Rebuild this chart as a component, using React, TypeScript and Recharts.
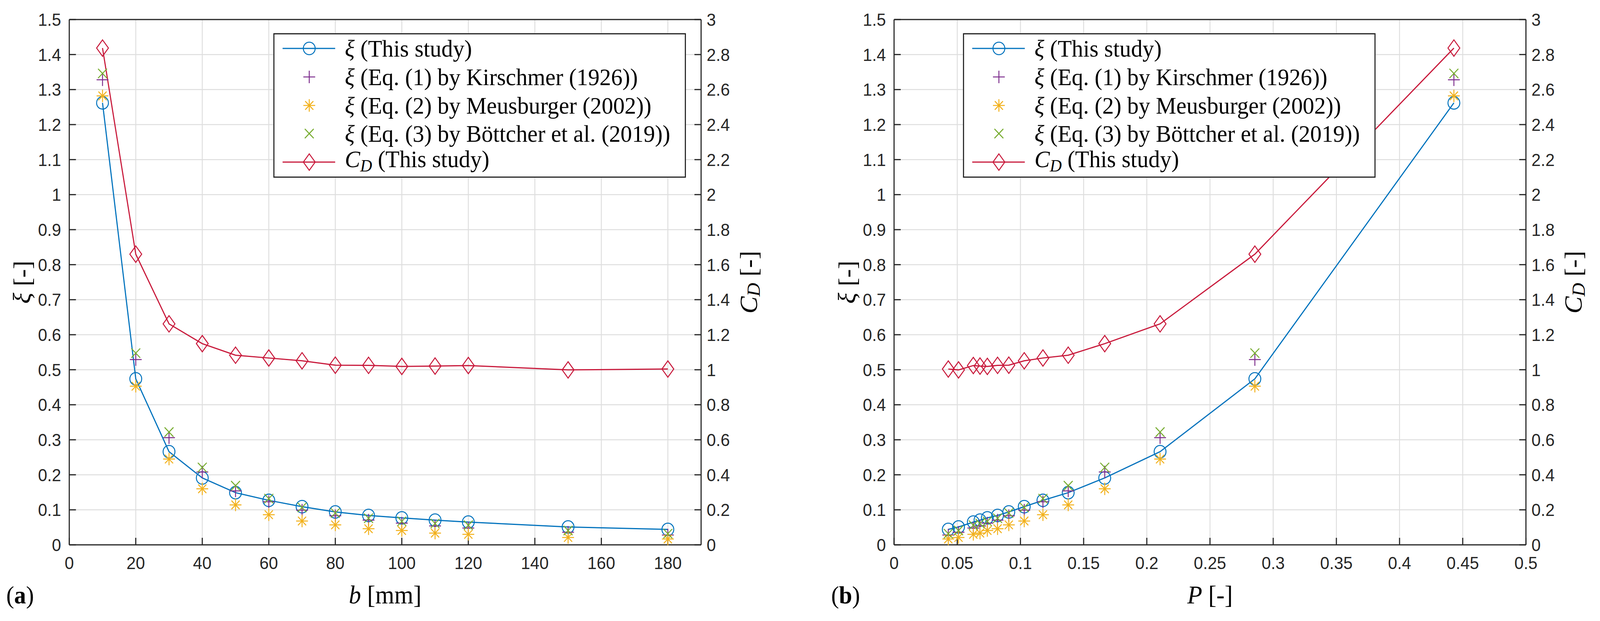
import React from 'react';
import { ComposedChart, Line, XAxis, YAxis, CartesianGrid, Legend, Label } from 'recharts';

// ---- data ----
const bValues = [10, 20, 30, 40, 50, 60, 70, 80, 90, 100, 110, 120, 150, 180];
const pValues = [0.443, 0.2855, 0.2105, 0.1667, 0.1378, 0.1178, 0.103, 0.0908, 0.0819, 0.0738, 0.068, 0.0627, 0.051, 0.0429];
const xiStudy = [1.262, 0.474, 0.266, 0.191, 0.149, 0.127, 0.109, 0.094, 0.084, 0.077, 0.0706, 0.065, 0.051, 0.044];
const xiKirschmer = [1.328, 0.529, 0.306, 0.208, 0.154, 0.123, 0.099, 0.083, 0.0706, 0.062, 0.054, 0.048, 0.036, 0.028];
const xiMeusburger = [1.282, 0.453, 0.245, 0.16, 0.114, 0.086, 0.068, 0.057, 0.046, 0.041, 0.0335, 0.03, 0.021, 0.0167];
const xiBoettcher = [1.346, 0.5475, 0.322, 0.221, 0.169, 0.132, 0.107, 0.091, 0.076, 0.067, 0.061, 0.056, 0.041, 0.032];
const cdStudy = [2.837, 1.66, 1.262, 1.149, 1.083, 1.067, 1.051, 1.026, 1.025, 1.019, 1.021, 1.024, 0.999, 1.004];

const xiTicks = [0, 0.1, 0.2, 0.3, 0.4, 0.5, 0.6, 0.7, 0.8, 0.9, 1, 1.1, 1.2, 1.3, 1.4, 1.5];
const cdTicks = [0, 0.2, 0.4, 0.6, 0.8, 1, 1.2, 1.4, 1.6, 1.8, 2, 2.2, 2.4, 2.6, 2.8, 3];
const bTicks = [0, 20, 40, 60, 80, 100, 120, 140, 160, 180];
const pTicks = [0, 0.05, 0.1, 0.15, 0.2, 0.25, 0.3, 0.35, 0.4, 0.45, 0.5];

const buildRows = (xs: number[]) =>
  xs.map((x, i) => ({
    x,
    xi: xiStudy[i],
    k: xiKirschmer[i],
    m: xiMeusburger[i],
    bo: xiBoettcher[i],
    cd: cdStudy[i],
  }));

const rowsB = buildRows(bValues);
const rowsP = buildRows(pValues);

// ---- styles ----
const BLUE = '#0072BD';
const PURPLE = '#7E2F8E';
const YELLOW = '#F2B11C';
const GREEN = '#77AC30';
const RED = '#C8183A';
const AXIS = '#262626';
const GRID = '#dedede';
const SANS = '"Liberation Sans", Arial, sans-serif';
const SERIF = '"Liberation Serif", "Times New Roman", serif';
const MW = 2.6;

// layout (design px, reference frame 4320 x 1590)
const PAGE_W = 4320;
const PAGE_H = 1590;
const VIEW_W = 4096; // visible width of the browser viewport
const CHART_W = 2093;
const CHART_H = 1590;
const LEFT_AXIS_W = 187;
const RIGHT_AXIS_W = 60;
const PLOT_W = 1706;
const MARGIN_RIGHT = CHART_W - LEFT_AXIS_W - PLOT_W - RIGHT_AXIS_W;

const fmt = (v: number) => String(Math.round(v * 1000) / 1000);

// ---- marker shapes ----
const drawCircle = (cx: number, cy: number, key?: string) => (
  <circle key={key} cx={cx} cy={cy} r={16} fill="none" stroke={BLUE} strokeWidth={MW} />
);
const drawPlus = (cx: number, cy: number, key?: string) => (
  <g key={key} stroke={PURPLE} strokeWidth={MW}>
    <line x1={cx - 16} y1={cy} x2={cx + 16} y2={cy} />
    <line x1={cx} y1={cy - 16} x2={cx} y2={cy + 16} />
  </g>
);
const drawStar = (cx: number, cy: number, key?: string) => (
  <g key={key} stroke={YELLOW} strokeWidth={MW}>
    <line x1={cx - 16} y1={cy} x2={cx + 16} y2={cy} />
    <line x1={cx} y1={cy - 16} x2={cx} y2={cy + 16} />
    <line x1={cx - 11} y1={cy - 11} x2={cx + 11} y2={cy + 11} />
    <line x1={cx - 11} y1={cy + 11} x2={cx + 11} y2={cy - 11} />
  </g>
);
const drawCross = (cx: number, cy: number, key?: string) => (
  <g key={key} stroke={GREEN} strokeWidth={MW}>
    <line x1={cx - 12} y1={cy - 12} x2={cx + 12} y2={cy + 12} />
    <line x1={cx - 12} y1={cy + 12} x2={cx + 12} y2={cy - 12} />
  </g>
);
const drawDiamond = (cx: number, cy: number, key?: string) => (
  <polygon
    key={key}
    points={`${cx},${cy - 21} ${cx + 16},${cy} ${cx},${cy + 21} ${cx - 16},${cy}`}
    fill="none"
    stroke={RED}
    strokeWidth={MW}
  />
);

const makeDot = (draw: (cx: number, cy: number, key?: string) => React.ReactElement, tag: string) =>
  (props: any) => {
    const { cx, cy, index } = props;
    if (cx == null || cy == null || isNaN(cx) || isNaN(cy)) return <g key={`${tag}${index}`} />;
    return draw(cx, cy, `${tag}${index}`);
  };

const circleDot = makeDot(drawCircle, 'c');
const plusDot = makeDot(drawPlus, 'p');
const starDot = makeDot(drawStar, 's');
const crossDot = makeDot(drawCross, 'x');
const diamondDot = makeDot(drawDiamond, 'd');

// ---- legend ----
const legendEntries = [
  { id: 'xi', draw: drawCircle, line: BLUE, sym: 'xi', text: ' (This study)' },
  { id: 'k', draw: drawPlus, line: null, sym: 'xi', text: ' (Eq. (1) by Kirschmer (1926))' },
  { id: 'm', draw: drawStar, line: null, sym: 'xi', text: ' (Eq. (2) by Meusburger (2002))' },
  { id: 'bo', draw: drawCross, line: null, sym: 'xi', text: ' (Eq. (3) by Böttcher et al. (2019))' },
  { id: 'cd', draw: drawDiamond, line: RED, sym: 'cd', text: ' (This study)' },
];

const renderLegend = () => (
  <div
    style={{
      position: 'relative',
      width: 1114,
      height: 370,
      boxSizing: 'border-box',
      border: `3px solid ${AXIS}`,
      background: '#fff',
      fontFamily: SERIF,
      fontSize: 62,
      color: '#000',
    }}
  >
    {legendEntries.map((e, i) => (
      <div
        key={e.id}
        style={{
          position: 'absolute',
          left: 0,
          top: i * 72.8,
          height: 72,
          display: 'flex',
          alignItems: 'center',
          whiteSpace: 'nowrap',
        }}
      >
        <svg width={190} height={72} style={{ flex: 'none' }}>
          {e.line && <line x1={22} y1={36} x2={164} y2={36} stroke={e.line} strokeWidth={3} />}
          {e.draw(94, 36)}
        </svg>
        <span style={{ lineHeight: '72px' }}>
          {e.sym === 'xi' ? (
            <i>ξ</i>
          ) : (
            <>
              <i>C</i>
              <sub style={{ fontSize: '0.72em', verticalAlign: '-0.25em' }}>
                <i>D</i>
              </sub>
            </>
          )}
          {e.text}
        </span>
      </div>
    ))}
  </div>
);

// ---- axis labels ----
const xiLabel = (props: any) => {
  const vb = props.viewBox || { x: 0, y: 50, width: LEFT_AXIS_W, height: 1345 };
  const cx = vb.x + vb.width - 127;
  const cy = vb.y + vb.height / 2;
  return (
    <text
      x={cx}
      y={cy}
      transform={`rotate(-90 ${cx} ${cy})`}
      textAnchor="middle"
      dominantBaseline="central"
      fontFamily={SERIF}
      fontSize={66}
      fill="#000"
    >
      <tspan fontStyle="italic">ξ</tspan>
      <tspan> [-]</tspan>
    </text>
  );
};

const cdLabel = (props: any) => {
  const vb = props.viewBox || { x: LEFT_AXIS_W + PLOT_W, y: 50, width: RIGHT_AXIS_W, height: 1345 };
  const cx = vb.x + 128;
  const cy = vb.y + vb.height / 2;
  return (
    <text
      x={cx}
      y={cy}
      transform={`rotate(-90 ${cx} ${cy})`}
      textAnchor="middle"
      dominantBaseline="central"
      fontFamily={SERIF}
      fontSize={66}
      fill="#000"
    >
      <tspan fontStyle="italic">C</tspan>
      <tspan fontStyle="italic" fontSize={48} dy={14}>D</tspan>
      <tspan dy={-14}> [-]</tspan>
    </text>
  );
};

const makeXLabel = (variable: string, unit: string) => (props: any) => {
  const vb = props.viewBox || { x: LEFT_AXIS_W, y: 1395, width: PLOT_W, height: 100 };
  return (
    <text
      x={vb.x + vb.width / 2}
      y={vb.y + 150}
      textAnchor="middle"
      fontFamily={SERIF}
      fontSize={66}
      fill="#000"
    >
      <tspan fontStyle="italic">{variable}</tspan>
      <tspan>{` [${unit}]`}</tspan>
    </text>
  );
};

const makeTag = (letter: string) => (props: any) => {
  const vb = props.viewBox || { x: LEFT_AXIS_W, y: 1395, width: PLOT_W, height: 100 };
  return (
    <text x={vb.x - 170} y={vb.y + 150} fontFamily={SERIF} fontSize={64} fill="#000">
      <tspan>(</tspan>
      <tspan fontWeight="bold">{letter}</tspan>
      <tspan>)</tspan>
    </text>
  );
};

const tickStyle = { fontFamily: SANS, fontSize: 45, fill: AXIS };
const lineStyle = { stroke: AXIS, strokeWidth: 3 };

type PanelProps = {
  rows: any[];
  xDomain: [number, number];
  xTicks: number[];
  xVar: string;
  xUnit: string;
  tag: string;
  legendLeft: number;
};

function Panel({ rows, xDomain, xTicks, xVar, xUnit, tag, legendLeft }: PanelProps) {
  return (
    <ComposedChart
      width={CHART_W}
      height={CHART_H}
      data={rows}
      margin={{ top: 49, right: MARGIN_RIGHT, bottom: 95, left: 0 }}
    >
      <CartesianGrid xAxisId="bottom" yAxisId="left" stroke={GRID} strokeWidth={2.5} />
      <XAxis
        xAxisId="bottom"
        dataKey="x"
        type="number"
        domain={xDomain}
        ticks={xTicks}
        interval={0}
        height={100}
        tickSize={-18}
        tickMargin={48}
        tickLine={lineStyle}
        axisLine={lineStyle}
        tick={tickStyle}
        tickFormatter={fmt}
      >
        <Label content={makeXLabel(xVar, xUnit)} />
        <Label content={makeTag(tag)} />
      </XAxis>
      <XAxis
        xAxisId="top"
        orientation="top"
        dataKey="x"
        type="number"
        domain={xDomain}
        ticks={xTicks}
        interval={0}
        height={1}
        tickSize={-18}
        tickLine={lineStyle}
        axisLine={lineStyle}
        tick={false}
      />
      <YAxis
        yAxisId="left"
        type="number"
        domain={[0, 1.5]}
        ticks={xiTicks}
        interval={0}
        width={LEFT_AXIS_W}
        tickSize={-18}
        tickMargin={40}
        tickLine={lineStyle}
        axisLine={lineStyle}
        tick={tickStyle}
        tickFormatter={fmt}
      >
        <Label content={xiLabel} />
      </YAxis>
      <YAxis
        yAxisId="right"
        orientation="right"
        type="number"
        domain={[0, 3]}
        ticks={cdTicks}
        interval={0}
        width={RIGHT_AXIS_W}
        tickSize={-18}
        tickMargin={33}
        tickLine={lineStyle}
        axisLine={lineStyle}
        tick={tickStyle}
        tickFormatter={fmt}
      >
        <Label content={cdLabel} />
      </YAxis>
      <Legend
        layout="horizontal"
        verticalAlign="middle"
        align="center"
        content={renderLegend}
        wrapperStyle={{ left: legendLeft, top: 85, width: 1114, height: 370 }}
      />
      <Line
        xAxisId="bottom"
        yAxisId="left"
        dataKey="xi"
        type="linear"
        stroke={BLUE}
        strokeWidth={3}
        dot={circleDot}
        activeDot={false}
        isAnimationActive={false}
      />
      <Line
        xAxisId="bottom"
        yAxisId="left"
        dataKey="k"
        stroke="none"
        dot={plusDot}
        activeDot={false}
        isAnimationActive={false}
      />
      <Line
        xAxisId="bottom"
        yAxisId="left"
        dataKey="m"
        stroke="none"
        dot={starDot}
        activeDot={false}
        isAnimationActive={false}
      />
      <Line
        xAxisId="bottom"
        yAxisId="left"
        dataKey="bo"
        stroke="none"
        dot={crossDot}
        activeDot={false}
        isAnimationActive={false}
      />
      <Line
        xAxisId="bottom"
        yAxisId="right"
        dataKey="cd"
        type="linear"
        stroke={RED}
        strokeWidth={3}
        dot={diamondDot}
        activeDot={false}
        isAnimationActive={false}
      />
    </ComposedChart>
  );
}

export default function App() {
  return (
    <div style={{ position: 'absolute', left: 0, top: 0, width: VIEW_W, height: PAGE_H, overflow: 'hidden', background: '#fff' }}>
      <div
        style={{
          position: 'absolute',
          left: 0,
          top: 0,
          width: PAGE_W,
          height: PAGE_H,
          background: '#fff',
          transform: `scaleX(${VIEW_W / PAGE_W})`,
          transformOrigin: '0 0',
        }}
      >
        <div style={{ position: 'absolute', left: 0, top: 0 }}>
          <Panel rows={rowsB} xDomain={[0, 190]} xTicks={bTicks} xVar="b" xUnit="mm" tag="a" legendLeft={738} />
        </div>
        <div style={{ position: 'absolute', left: 2227, top: 0 }}>
          <Panel rows={rowsP} xDomain={[0, 0.5]} xTicks={pTicks} xVar="P" xUnit="-" tag="b" legendLeft={373} />
        </div>
      </div>
    </div>
  );
}
